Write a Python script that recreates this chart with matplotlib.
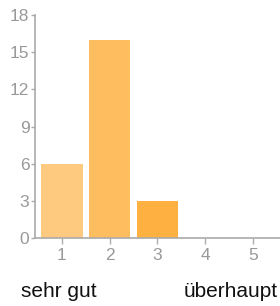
import matplotlib.pyplot as plt

plt.rcParams['font.family'] = ['Liberation Sans', 'DejaVu Sans']

# ratings 1..5 and number of answers
ratings = [1, 2, 3, 4, 5]
counts = [6, 16, 3, 0, 0]
bar_colors = ['#FECA80', '#FEBD5E', '#FEB141', '#FEA526', '#FE9A0B']
yticks = [0, 3, 6, 9, 12, 15, 18]

fig = plt.figure(figsize=(2.8, 3.06), dpi=100)
ax = fig.add_axes([0.125, 0.222, 0.875, 0.729])

ax.bar(ratings, counts, width=0.86, color=bar_colors, edgecolor='none')

ax.set_xlim(0.435, 5.565)
ax.set_ylim(0, 18)
ax.set_xticks(ratings)
ax.set_yticks(yticks)

for s in ['top', 'right']:
    ax.spines[s].set_visible(False)
for s in ['left', 'bottom']:
    ax.spines[s].set_color('#aaaaaa')
    ax.spines[s].set_linewidth(1.2)

ax.tick_params(axis='both', colors='#aaaaaa', labelcolor='#999999',
               labelsize=12.5, length=4, width=1)
ax.tick_params(axis='x', pad=3)
ax.tick_params(axis='y', pad=1, length=3)

fig.text(21 / 280, 1 - 297 / 306, 'sehr gut', fontsize=15, color='#111111',
         ha='left', va='baseline')
fig.text(184 / 280, 1 - 297 / 306, 'überhaupt', fontsize=15, color='#111111',
         ha='left', va='baseline')

fig.savefig('out.png', dpi=100)
